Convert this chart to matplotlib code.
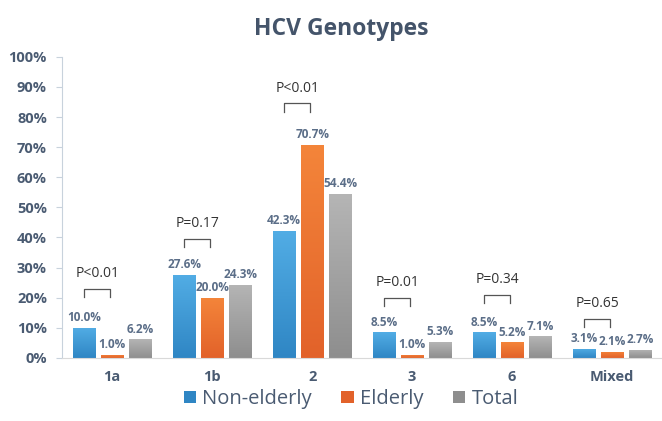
import matplotlib.pyplot as plt
import numpy as np
from matplotlib.colors import LinearSegmentedColormap
from matplotlib.patches import Patch

plt.rcParams["font.family"] = ["Open Sans", "DejaVu Sans"]

genotypes = ["1a", "1b", "2", "3", "6", "Mixed"]
non_elderly = [10.0, 27.6, 42.3, 8.5, 8.5, 3.1]
elderly = [1.0, 20.0, 70.7, 1.0, 5.2, 2.1]
total = [6.2, 24.3, 54.4, 5.3, 7.1, 2.7]
p_values = ["P<0.01", "P=0.17", "P<0.01", "P=0.01", "P=0.34", "P=0.65"]
bracket_top = [23, 39.5, 84.5, 20, 21, 13]

series = [
    ("Non-elderly", non_elderly, ("#52ade5", "#2f86c4")),
    ("Elderly", elderly, ("#f4853a", "#e2622a")),
    ("Total", total, ("#b5b5b5", "#8e8e8e")),
]

TEXT = "#4a5b72"
LABEL = "#5b6e88"

fig = plt.figure(figsize=(6.62, 4.21), dpi=100)
ax = fig.add_axes([0.094, 0.150, 0.906, 0.715])

x = np.arange(len(genotypes))
width = 0.23
step = 0.28
offsets = [-step, 0, step]

grad = np.linspace(0, 1, 256).reshape(-1, 1)
for (name, vals, (c_top, c_bot)), off in zip(series, offsets):
    cmap = LinearSegmentedColormap.from_list(name, [c_bot, c_top])
    bars = ax.bar(x + off, vals, width, color=c_top, edgecolor="none")
    for bar, v in zip(bars, vals):
        x0 = bar.get_x()
        im = ax.imshow(grad, cmap=cmap, aspect="auto", origin="lower",
                       extent=(x0, x0 + width, 0, v), zorder=2)
        im.set_clip_path(bar)
        ax.text(x0 + width / 2, v + 1.2, f"{v:.1f}%", ha="center", va="bottom",
                fontsize=8.5, fontweight="bold", color=LABEL, zorder=4)

# significance brackets (non-elderly vs elderly)
for xi, top, p in zip(x, bracket_top, p_values):
    xl, xr = xi - step, xi - 0.02
    ax.plot([xl, xl, xr, xr], [top - 2.7, top, top, top - 2.7],
            color="#555555", lw=0.9, zorder=4)
    ax.text((xl + xr) / 2, top + 2.5, p, ha="center", va="bottom",
            fontsize=10, color="#333333")

ax.set_xlim(-0.5, len(genotypes) - 0.5)
ax.set_ylim(0, 100)
ax.set_yticks(np.arange(0, 101, 10))
ax.set_yticklabels([f"{t}%" for t in range(0, 101, 10)])
ax.set_xticks(x)
ax.set_xticklabels(genotypes)
for lab in ax.get_yticklabels() + ax.get_xticklabels():
    lab.set_fontweight("bold")
    lab.set_color(TEXT)
    lab.set_fontsize(10.5)
ax.tick_params(axis="x", length=0, pad=9)
ax.tick_params(axis="y", length=4, color="#c8d2dc", pad=7)
for s in ["top", "right"]:
    ax.spines[s].set_visible(False)
ax.spines["left"].set_color("#c8d2dc")
ax.spines["bottom"].set_color("#d9d9d9")

fig.text(0.515, 0.93, "HCV Genotypes", ha="center", va="center",
         fontsize=16.5, fontweight="bold", color="#44546a")

handles = [Patch(facecolor=c[1], label=n) for n, _, c in series]
fig.legend(handles=handles, loc="lower center", bbox_to_anchor=(0.53, -0.015),
           ncol=3, frameon=False, fontsize=14.5, handlelength=0.6, handleheight=0.6,
           handletextpad=0.3, columnspacing=1.5, labelcolor=TEXT)

fig.savefig("out.png", dpi=100)
